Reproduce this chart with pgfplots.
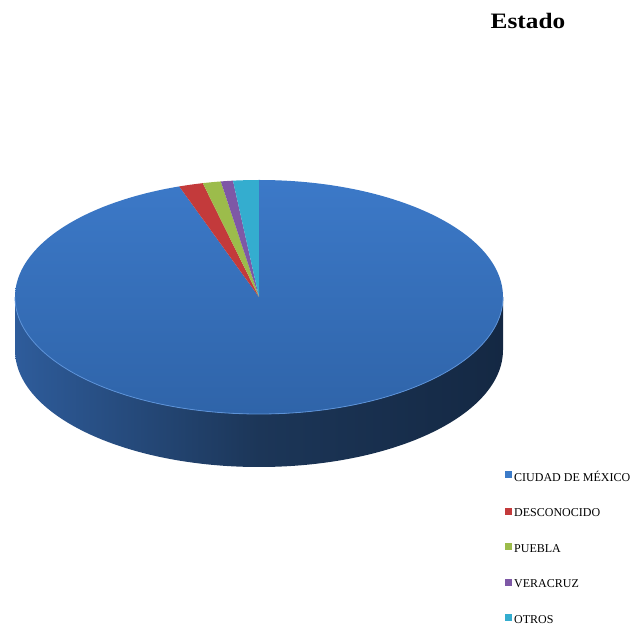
\documentclass[border=0pt]{standalone}
\usepackage{fontspec}
\setmainfont{Liberation Serif}
\newfontfamily\titlefont[FakeStretch=1.15]{Liberation Serif}
\usepackage{pgfplots}
\usepackage{pgfplotstable}
\pgfplotsset{compat=1.18}
\definecolor{cdmxT}{HTML}{3C79C8}
\definecolor{cdmxB}{HTML}{2F64A9}
\definecolor{sideL}{HTML}{2E5C9B}
\definecolor{sideM}{HTML}{1C3658}
\definecolor{sideR}{HTML}{142843}
\definecolor{rim}{HTML}{5C92D8}
\definecolor{cRed}{HTML}{C33A3B}
\definecolor{cGreen}{HTML}{9CBC4B}
\definecolor{cPurple}{HTML}{7E58A6}
\definecolor{cCyan}{HTML}{34ADCF}
\definecolor{lBlue}{HTML}{3C7BC8}

\pgfplotstableread[col sep=comma]{
estado,valor
CIUDAD DE MÉXICO,94.7
DESCONOCIDO,1.6
PUEBLA,1.2
VERACRUZ,0.8
OTROS,1.7
}\piedata

\begin{document}
\begin{tikzpicture}
\pgfplotstablegetelem{0}{valor}\of\piedata \let\vA\pgfplotsretval
\pgfplotstablegetelem{1}{valor}\of\piedata \let\vB\pgfplotsretval
\pgfplotstablegetelem{2}{valor}\of\piedata \let\vC\pgfplotsretval
\pgfplotstablegetelem{3}{valor}\of\piedata \let\vD\pgfplotsretval
\pgfplotstablegetelem{4}{valor}\of\piedata \let\vE\pgfplotsretval
\pgfmathsetmacro{\tot}{\vA+\vB+\vC+\vD+\vE}
\pgfmathsetmacro{\aA}{90-360*(\vA/\tot)}
\pgfmathsetmacro{\aB}{\aA-360*(\vB/\tot)}
\pgfmathsetmacro{\aC}{\aB-360*(\vC/\tot)}
\pgfmathsetmacro{\aD}{\aC-360*(\vD/\tot)}
\pgfmathsetmacro{\aE}{\aD-360*(\vE/\tot)}
\begin{axis}[
  scale only axis, width=640pt, height=627pt,
  xmin=0, xmax=640, ymin=0, ymax=627,
  hide axis, clip=false,
  legend style={at={(axis cs:505,158)}, anchor=north west, draw=none, fill=none,
    font=\fontsize{12}{14}\selectfont, row sep=22pt, inner sep=0pt},
  legend cell align=left,
  legend image code/.code={\fill[#1] (0pt,-1pt) rectangle (7pt,6pt);},
]
\path (axis cs:0,0) rectangle (axis cs:640,627);
% side wall
\path[left color=sideL, right color=sideR, middle color=sideM]
  (axis cs:15,330) arc[start angle=180, end angle=360, x radius=244pt, y radius=117pt]
  -- (axis cs:503,277) arc[start angle=0, end angle=-180, x radius=244pt, y radius=117pt]
  -- cycle;
% top face slices
\path[top color=cdmxT, bottom color=cdmxB]
  (axis cs:259,330) -- (axis cs:259,447)
  arc[start angle=90, end angle=\aA, x radius=244pt, y radius=117pt] -- cycle;
\fill[cRed] (axis cs:259,330) -- (axis cs:{259+244*cos(\aA)},{330+117*sin(\aA)})
  arc[start angle=\aA, end angle=\aB, x radius=244pt, y radius=117pt] -- cycle;
\fill[cGreen] (axis cs:259,330) -- (axis cs:{259+244*cos(\aB)},{330+117*sin(\aB)})
  arc[start angle=\aB, end angle=\aC, x radius=244pt, y radius=117pt] -- cycle;
\fill[cPurple] (axis cs:259,330) -- (axis cs:{259+244*cos(\aC)},{330+117*sin(\aC)})
  arc[start angle=\aC, end angle=\aD, x radius=244pt, y radius=117pt] -- cycle;
\fill[cCyan] (axis cs:259,330) -- (axis cs:{259+244*cos(\aD)},{330+117*sin(\aD)})
  arc[start angle=\aD, end angle=\aE, x radius=244pt, y radius=117pt] -- cycle;
% rim highlight
\draw[rim, line width=0.8pt] (axis cs:15,330)
  arc[start angle=180, end angle=360, x radius=244pt, y radius=117pt];
% title
\node[anchor=base, font=\titlefont\bfseries\fontsize{22}{26}\selectfont, inner sep=0pt]
  at (axis cs:528,598) {Estado};
% legend
\addlegendimage{fill=lBlue, draw=none}
\addlegendentry{CIUDAD DE MÉXICO}
\addlegendimage{fill=cRed, draw=none}
\addlegendentry{DESCONOCIDO}
\addlegendimage{fill=cGreen, draw=none}
\addlegendentry{PUEBLA}
\addlegendimage{fill=cPurple, draw=none}
\addlegendentry{VERACRUZ}
\addlegendimage{fill=cCyan, draw=none}
\addlegendentry{OTROS}
\end{axis}
\end{tikzpicture}
\end{document}
